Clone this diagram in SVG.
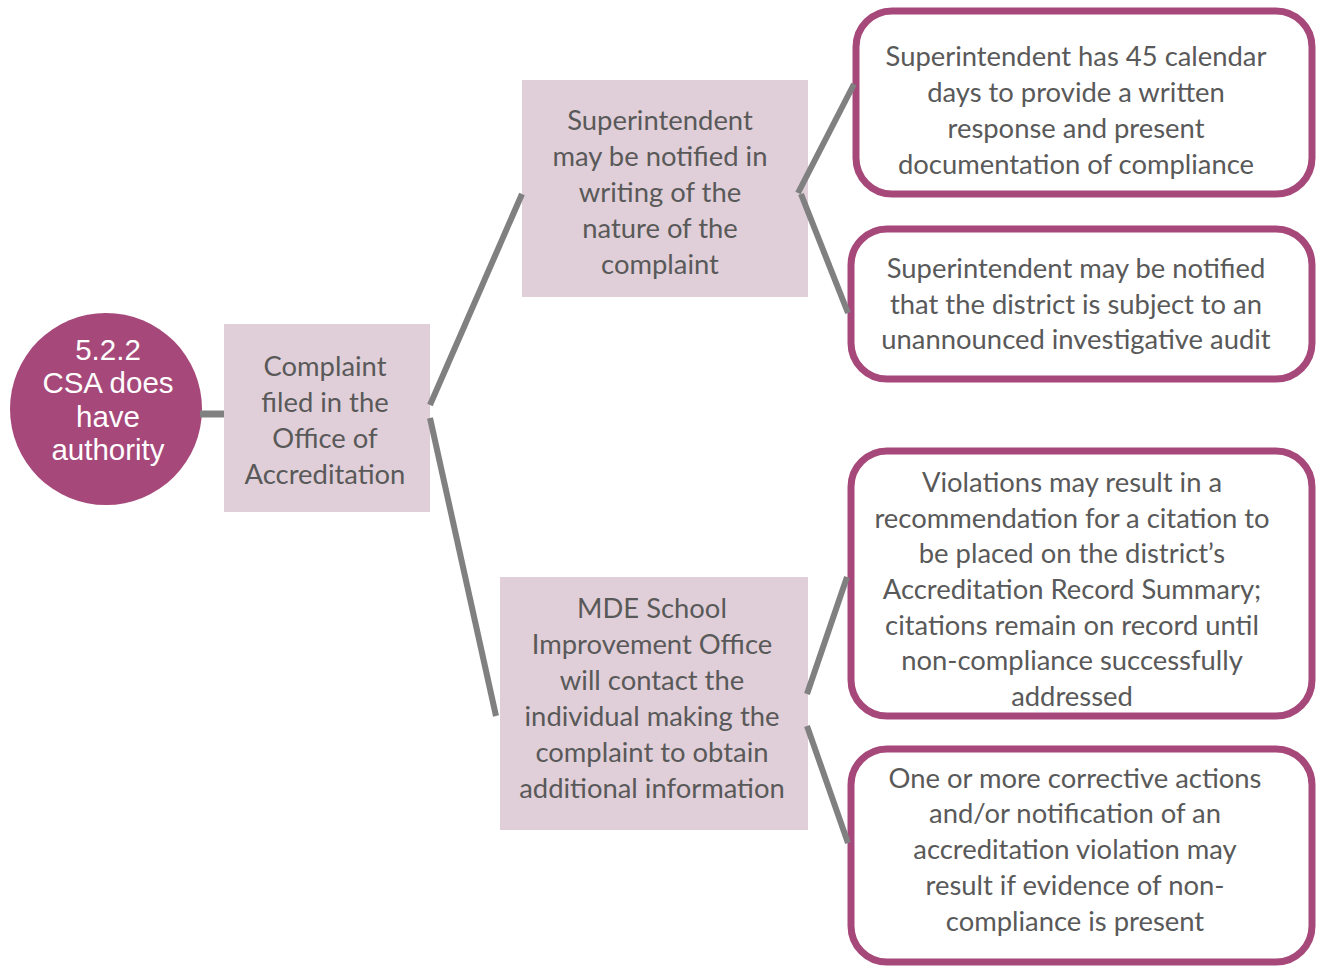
<svg xmlns="http://www.w3.org/2000/svg" width="1319" height="966" viewBox="0 0 1319 966">
<style>
.box{fill:#E0CFD8}
.rbox{fill:#FFFFFF;stroke:#A6487A;stroke-width:7}
.t{font-family:Lato,"Open Sans",sans-serif;font-size:27.4px;fill:#595959;text-anchor:middle}
.ct{font-family:"Liberation Sans",Arial,sans-serif;font-size:29.5px;fill:#FFFFFF;text-anchor:middle}
.c{stroke:#808080;stroke-width:6;fill:none}
</style>
<rect width="1319" height="966" fill="#FFFFFF"/>
<g id="root">
<circle cx="106" cy="409" r="96" fill="#A6487A"/>
<text class="ct" x="108" y="360">5.2.2</text>
<text class="ct" x="108" y="393">CSA does</text>
<text class="ct" x="108" y="427">have</text>
<text class="ct" x="108" y="460">authority</text>
</g>
<g id="complaint">
<rect class="box" x="224" y="324" width="206" height="188"/>
<text class="t" x="325" y="376">Complaint</text>
<text class="t" x="325" y="412">filed in the</text>
<text class="t" x="325" y="448">Office of</text>
<text class="t" x="325" y="484">Accreditation</text>
</g>
<g id="notified">
<rect class="box" x="522" y="80" width="286" height="217"/>
<text class="t" x="660" y="130">Superintendent</text>
<text class="t" x="660" y="166">may be notified in</text>
<text class="t" x="660" y="202">writing of the</text>
<text class="t" x="660" y="238">nature of the</text>
<text class="t" x="660" y="274">complaint</text>
</g>
<g id="mde">
<rect class="box" x="500" y="577" width="308" height="253"/>
<text class="t" x="652" y="618">MDE School</text>
<text class="t" x="652" y="654">Improvement Office</text>
<text class="t" x="652" y="690">will contact the</text>
<text class="t" x="652" y="726">individual making the</text>
<text class="t" x="652" y="762">complaint to obtain</text>
<text class="t" x="652" y="798">additional information</text>
</g>
<g id="days45">
<rect class="rbox" x="856" y="11" width="456" height="183" rx="36"/>
<text class="t" x="1076" y="66">Superintendent has 45 calendar</text>
<text class="t" x="1076" y="102">days to provide a written</text>
<text class="t" x="1076" y="138">response and present</text>
<text class="t" x="1076" y="174">documentation of compliance</text>
</g>
<g id="audit">
<rect class="rbox" x="851" y="229" width="461" height="150" rx="36"/>
<text class="t" x="1076" y="278">Superintendent may be notified</text>
<text class="t" x="1076" y="314">that the district is subject to an</text>
<text class="t" x="1076" y="349">unannounced investigative audit</text>
</g>
<g id="violations">
<rect class="rbox" x="851" y="451" width="461" height="265" rx="36"/>
<text class="t" x="1072" y="492">Violations may result in a</text>
<text class="t" x="1072" y="528">recommendation for a citation to</text>
<text class="t" x="1072" y="563">be placed on the district’s</text>
<text class="t" x="1072" y="599">Accreditation Record Summary;</text>
<text class="t" x="1072" y="635">citations remain on record until</text>
<text class="t" x="1072" y="670">non-compliance successfully</text>
<text class="t" x="1072" y="706">addressed</text>
</g>
<g id="corrective">
<rect class="rbox" x="851" y="749" width="461" height="213" rx="36"/>
<text class="t" x="1075" y="788">One or more corrective actions</text>
<text class="t" x="1075" y="823">and/or notification of an</text>
<text class="t" x="1075" y="859">accreditation violation may</text>
<text class="t" x="1075" y="895">result if evidence of non-</text>
<text class="t" x="1075" y="931">compliance is present</text>
</g>
<g id="connectors">
<line class="c" x1="200" y1="414" x2="224" y2="414" style="stroke-width:7"/>
<line class="c" x1="430" y1="405" x2="522" y2="194"/>
<line class="c" x1="430" y1="418" x2="496" y2="716"/>
<line class="c" x1="798" y1="193" x2="854" y2="84"/>
<line class="c" x1="801" y1="194" x2="848" y2="313"/>
<line class="c" x1="807" y1="694" x2="847" y2="577"/>
<line class="c" x1="807" y1="726" x2="848" y2="843"/>
</g>
</svg>
